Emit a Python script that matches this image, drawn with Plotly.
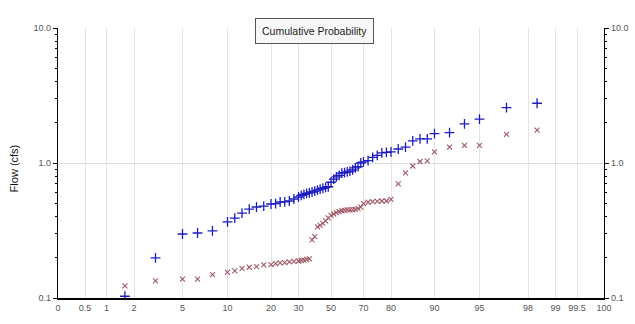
import numpy as np
import plotly.graph_objects as go

# ---- data: plotting position (% non-exceedance) and flows (cfs) ----
plot_pct = [1.67, 3.33, 5.00, 6.67, 8.33, 10.00, 11.67, 13.33, 15.00, 16.67,
            18.33, 20.00, 21.67, 23.33, 25.00, 26.67, 28.33, 30.00, 31.67, 33.33,
            35.00, 36.67, 38.33, 40.00, 41.67, 43.33, 45.00, 46.67, 48.33, 50.00,
            51.67, 53.33, 55.00, 56.67, 58.33, 60.00, 61.67, 63.33, 65.00, 66.67,
            68.33, 70.00, 71.67, 73.33, 75.00, 76.67, 78.33, 80.00, 81.67, 83.33,
            85.00, 86.67, 88.33, 90.00, 91.67, 93.33, 95.00, 96.67, 98.33]

flow_plus = [0.103, 0.198, 0.298, 0.303, 0.314, 0.366, 0.39, 0.426, 0.456, 0.472,
             0.48, 0.497, 0.50, 0.514, 0.515, 0.523, 0.541, 0.56, 0.575, 0.585,
             0.595, 0.60, 0.61, 0.62, 0.63, 0.64, 0.65, 0.66, 0.667, 0.72,
             0.76, 0.79, 0.81, 0.84, 0.85, 0.86, 0.87, 0.89, 0.92, 0.94,
             1.00, 1.02, 1.04, 1.10, 1.14, 1.19, 1.20, 1.21, 1.27, 1.31,
             1.46, 1.51, 1.51, 1.65, 1.68, 1.95, 2.11, 2.57, 2.77]

flow_x = [0.123, 0.134, 0.138, 0.138, 0.149, 0.155, 0.159, 0.166, 0.169, 0.171,
          0.176, 0.177, 0.18, 0.182, 0.183, 0.185, 0.187, 0.188, 0.19, 0.191,
          0.193, 0.195, 0.27, 0.285, 0.336, 0.345, 0.357, 0.372, 0.392, 0.409,
          0.419, 0.429, 0.437, 0.443, 0.446, 0.449, 0.45, 0.452, 0.454, 0.46,
          0.472, 0.50, 0.512, 0.517, 0.52, 0.523, 0.523, 0.537, 0.70, 0.846,
          0.95, 1.026, 1.035, 1.21, 1.31, 1.35, 1.35, 1.63, 1.75]

x_tick_pct = [0, 0.5, 1, 2, 5, 10, 20, 30, 50, 70, 80, 90, 95, 98, 99, 99.5, 100]
x_tick_text = ["0", "0.5", "1", "2", "5", "10", "20", "30", "50", "70", "80",
               "90", "95", "98", "99", "99.5", "100"]
y_tick_vals = [0.1, 1, 10]
y_tick_text = ["0.1", "1.0", "10.0"]

# ---- probability-axis scale (piecewise, as on the original axis) ----
SCALE_UNITS = [-273, -246, -224.5, -197, -148.5, -103.5, -60, -32.5, 0,
               32.5, 60, 103.5, 148.5, 197, 224.5, 246, 273]


def prob_scale(p):
    return np.interp(np.asarray(p, dtype=float), x_tick_pct, SCALE_UNITS)


xs = prob_scale(plot_pct)
minor_vals = [v * m for v in (0.1, 1) for m in range(2, 10)]

fig = go.Figure()
fig.add_trace(go.Scatter(
    x=xs, y=flow_x, mode="markers", name="x", hoverinfo="skip",
    marker=dict(symbol="x-thin", size=5, line=dict(width=1.1, color="#a05a66"),
                color="#a05a66")))
fig.add_trace(go.Scatter(
    x=xs, y=flow_plus, mode="markers", name="+",
    marker=dict(symbol="cross-thin", size=7, line=dict(width=1.3, color="#1c1cc0"),
                color="#1c1cc0")))
# same series referenced on the right-hand axis so that axis is drawn (invisible)
fig.add_trace(go.Scatter(
    x=xs, y=flow_plus, mode="markers", yaxis="y2", hoverinfo="skip",
    marker=dict(opacity=0), showlegend=False))

axis_font = dict(family="Liberation Sans, Arial, sans-serif", size=9, color="#555555")
yax_common = dict(
    type="log", range=[-1, 1], tickvals=y_tick_vals, ticktext=y_tick_text,
    ticks="outside", ticklen=4, tickcolor="#000000", tickwidth=1,
    showline=True, linecolor="#000000", linewidth=1.2,
    tickfont=axis_font, zeroline=False,
    minor=dict(tickvals=minor_vals, ticks="outside", ticklen=2,
               tickcolor="#000000", showgrid=False),
)

fig.update_layout(
    width=635, height=324,
    margin=dict(l=58, r=31, t=28, b=26, autoexpand=False),
    paper_bgcolor="#ffffff", plot_bgcolor="#ffffff",
    showlegend=False,
    xaxis=dict(range=[-273, 273], tickvals=prob_scale(x_tick_pct), ticktext=x_tick_text,
               showgrid=True, gridcolor="#e4e4e4", gridwidth=1,
               showline=True, linecolor="#000000", linewidth=1.5,
               ticks="", tickfont=axis_font, zeroline=False, automargin=False),
    yaxis=dict(**yax_common, showgrid=True, gridcolor="#dddddd", gridwidth=1.2,
               automargin=False),
    yaxis2=dict(**yax_common, overlaying="y", side="right", showgrid=False,
                automargin=False),
    annotations=[
        dict(text="Cumulative Probability", xref="paper", yref="paper",
             x=0.469, y=0.989, xanchor="center", yanchor="middle", showarrow=False,
             font=dict(family="Liberation Sans, Arial, sans-serif", size=10.5, color="#222222"),
             bgcolor="#f7f7f7", bordercolor="#555555", borderwidth=1, borderpad=6),
        dict(text="Flow (cfs)", xref="paper", yref="paper", x=0, y=0.48,
             xanchor="right", yanchor="middle", xshift=-36, textangle=-90,
             showarrow=False,
             font=dict(family="Liberation Sans, Arial, sans-serif", size=11, color="#111111")),
    ],
)

fig.write_html("out.html", config={"displayModeBar": False},
               post_script="document.body.style.margin='0';document.body.style.overflow='hidden';")
